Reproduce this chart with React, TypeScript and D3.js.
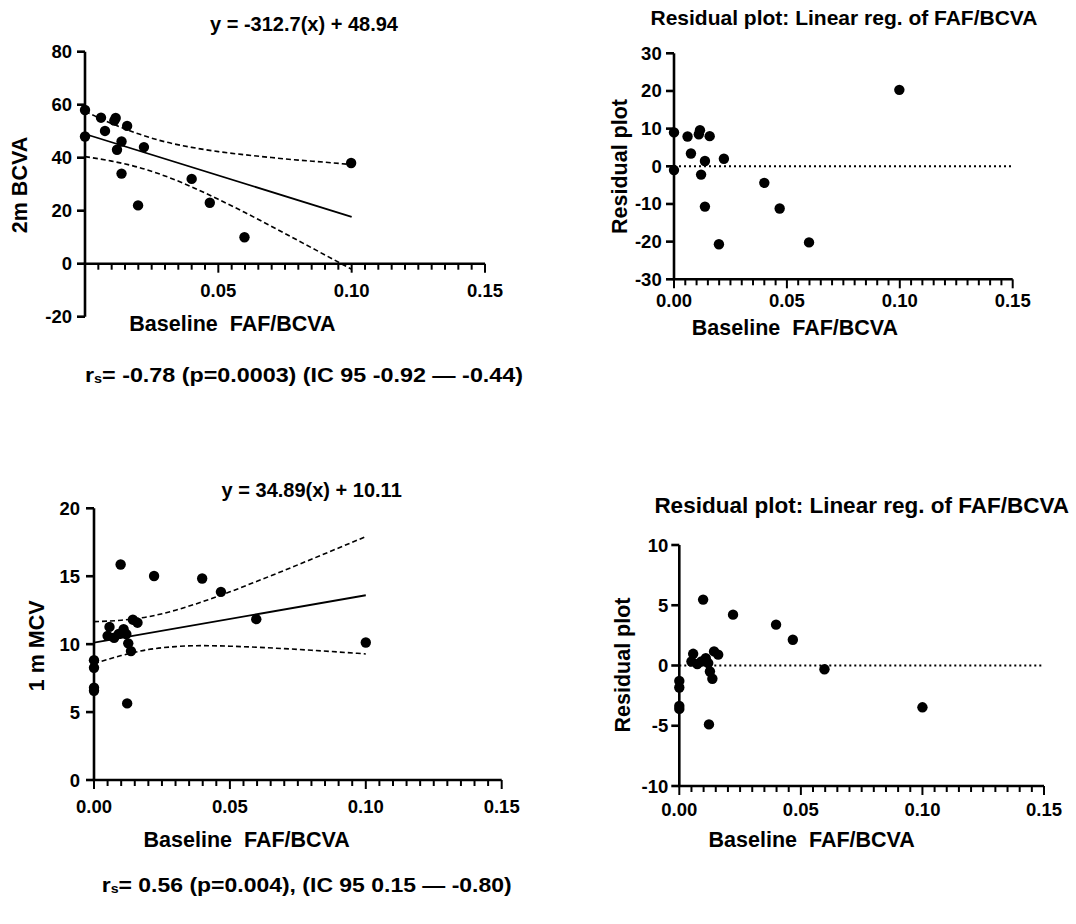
import React from "react";
import * as d3 from "d3";

// ---------- DATA ----------
// Top row: 2m BCVA vs baseline FAF/BCVA
const topX = [0, 0, 0.006, 0.0075, 0.0115, 0.011, 0.0158, 0.0137, 0.012, 0.0137, 0.0221, 0.0199, 0.04, 0.0468, 0.0598, 0.0998];
const topY = [58, 48, 55.1, 50.1, 55, 54, 52, 46.1, 43, 34, 44, 22, 32, 23, 10, 38];
const topResid = [9.0, -1.0, 7.9, 3.4, 9.6, 8.5, 8.0, 1.4, -2.2, -10.7, 2.0, -20.7, -4.4, -11.2, -20.2, 20.3];
const topSlope = -312.7;
const topIntercept = 48.94;
const bandX = [0, 0.01, 0.02, 0.03, 0.04, 0.05, 0.06, 0.07, 0.08, 0.09, 0.1];
const topBandUpper = [57.5, 52.9, 49.0, 46.0, 43.9, 42.3, 41.1, 40.05, 39.1, 38.3, 37.4];
const topBandLower = [40.4, 38.7, 36.4, 33.1, 29.0, 24.3, 19.3, 14.05, 8.7, 3.3, -2.1];

// Bottom row: 1 m MCV vs baseline FAF/BCVA
const botX = [0.0098, 0.0221, 0.0398, 0.0467, 0.0597, 0.1, 0, 0, 0, 0, 0.0122, 0.0057, 0.005, 0.0074, 0.0091, 0.0109, 0.0143, 0.016, 0.0119, 0.0126, 0.0136];
const botY = [15.86, 15.02, 14.83, 13.85, 11.84, 10.12, 8.82, 8.26, 6.79, 6.57, 5.64, 11.27, 10.61, 10.47, 10.76, 11.1, 11.8, 11.58, 10.74, 10.06, 9.49];
const botResid = [5.47, 4.22, 3.39, 2.14, -0.31, -3.47, -1.28, -1.83, -3.36, -3.6, -4.89, 0.97, 0.33, 0.12, 0.33, 0.6, 1.17, 0.9, 0.2, -0.5, -1.1];
const botSlope = 34.89;
const botIntercept = 10.11;
const botBandUpper = [11.66, 11.76, 12.02, 12.5, 13.13, 13.85, 14.63, 15.43, 16.25, 17.08, 17.92];
const botBandLower = [8.56, 9.16, 9.6, 9.82, 9.89, 9.85, 9.77, 9.67, 9.55, 9.42, 9.28];

const fitRange = [0, 0.1];
const xTicks = [0, 0.05, 0.1, 0.15];
const xMinorStep = 0.005;
const topYTicks = [-20, 0, 20, 40, 60, 80];
const topResidTicks = [-30, -20, -10, 0, 10, 20, 30];
const botYTicks = [0, 5, 10, 15, 20];
const botResidTicks = [-10, -5, 0, 5, 10];

const xTitle = "Baseline  FAF/BCVA";
const residTitle = "Residual plot: Linear reg. of FAF/BCVA";
const residYTitle = "Residual plot";

// ---------- DRAWING ----------
const FONT = "'Liberation Sans', Arial, Helvetica, sans-serif";

type Spec = {
  xRange: [number, number];
  yDomain: [number, number];
  yRange: [number, number];
  xAxisAt: number;
  xs: number[];
  ys: number[];
  yTicks: number[];
  showZeroX: boolean;
  xLabelY: number;
  yLabelRight: number;
  xTitlePos: [number, number];
  xTitleSize: number;
  yTitle: string;
  yTitlePos: [number, number];
  title: string;
  titlePos: [number, number];
  titleSize: number;
  fit?: { slope: number; intercept: number; upper: number[]; lower: number[] };
  zeroLine?: boolean;
};

function Panel({ s }: { s: Spec }) {
  const x = d3.scaleLinear().domain([0, 0.15]).range(s.xRange);
  const y = d3.scaleLinear().domain(s.yDomain).range(s.yRange);
  const axisY = y(s.xAxisAt);
  const minor = d3.range(0, 0.15 + 1e-9, xMinorStep);
  const line = d3.line<[number, number]>().x((d) => x(d[0])).y((d) => y(d[1]));
  const curve = d3
    .line<[number, number]>()
    .x((d) => x(d[0]))
    .y((d) => y(d[1]))
    .curve(d3.curveMonotoneX);
  const sw = 2.6;
  return (
    <g fontFamily={FONT} fontWeight="bold" fill="#000">
      {/* y axis */}
      <line x1={x(0)} x2={x(0)} y1={y(s.yDomain[0])} y2={y(s.yDomain[1])} stroke="#000" strokeWidth={sw} />
      {s.yTicks.map((t) => (
        <g key={"yt" + t}>
          <line x1={x(0) - 8} x2={x(0)} y1={y(t)} y2={y(t)} stroke="#000" strokeWidth={sw} />
          <text x={s.yLabelRight} y={y(t)} textAnchor="end" dominantBaseline="central" fontSize={18.5}>
            {t}
          </text>
        </g>
      ))}
      {/* x axis */}
      <line x1={x(0) - sw / 2} x2={x(0.15)} y1={axisY} y2={axisY} stroke="#000" strokeWidth={sw} />
      {minor.map((m, i) => (
        <line
          key={"mx" + i}
          x1={x(m)}
          x2={x(m)}
          y1={axisY}
          y2={axisY + (i % 10 === 0 ? 9 : 6)}
          stroke="#000"
          strokeWidth={2}
        />
      ))}
      {xTicks
        .filter((t) => s.showZeroX || t !== 0)
        .map((t) => (
          <text key={"xt" + t} x={x(t)} y={s.xLabelY} textAnchor="middle" dominantBaseline="central" fontSize={18.5}>
            {d3.format(".2f")(t)}
          </text>
        ))}
      {/* titles */}
      <text
        x={s.xTitlePos[0]}
        y={s.xTitlePos[1]}
        textAnchor="middle"
        dominantBaseline="central"
        fontSize={s.xTitleSize}
        style={{ whiteSpace: "pre" }}
      >
        {xTitle}
      </text>
      <text
        transform={`translate(${s.yTitlePos[0]},${s.yTitlePos[1]}) rotate(-90)`}
        textAnchor="middle"
        dominantBaseline="central"
        fontSize={21.5}
      >
        {s.yTitle}
      </text>
      <text x={s.titlePos[0]} y={s.titlePos[1]} textAnchor="middle" dominantBaseline="central" fontSize={s.titleSize}>
        {s.title}
      </text>
      {/* zero line for residuals */}
      {s.zeroLine && (
        <line x1={x(0)} x2={x(0.15)} y1={y(0)} y2={y(0)} stroke="#000" strokeWidth={2} strokeDasharray="2 3" />
      )}
      {/* fit + confidence bands */}
      {s.fit && (
        <g fill="none" stroke="#000">
          <path
            d={line(fitRange.map((v) => [v, s.fit!.intercept + s.fit!.slope * v]) as [number, number][]) || ""}
            strokeWidth={1.8}
          />
          <path
            d={curve(bandX.map((v, i) => [v, s.fit!.upper[i]]) as [number, number][]) || ""}
            strokeWidth={1.6}
            strokeDasharray="5 3"
          />
          <path
            d={curve(bandX.map((v, i) => [v, s.fit!.lower[i]]) as [number, number][]) || ""}
            strokeWidth={1.6}
            strokeDasharray="5 3"
          />
        </g>
      )}
      {/* points */}
      {s.xs.map((v, i) => (
        <circle key={"p" + i} cx={x(v)} cy={y(s.ys[i])} r={5.2} fill="#000" />
      ))}
    </g>
  );
}

const TL: Spec = {
  xRange: [85, 485],
  yDomain: [-20, 80],
  yRange: [316.7, 51.7],
  xAxisAt: 0,
  xs: topX,
  ys: topY,
  yTicks: topYTicks,
  showZeroX: false,
  xLabelY: 290,
  yLabelRight: 72,
  xTitlePos: [232.5, 323.5],
  xTitleSize: 21.5,
  yTitle: "2m BCVA",
  yTitlePos: [20, 185],
  title: `y = ${topSlope}(x) + ${topIntercept}`,
  titlePos: [304, 24],
  titleSize: 20,
  fit: { slope: topSlope, intercept: topIntercept, upper: topBandUpper, lower: topBandLower },
};

const TR: Spec = {
  xRange: [674, 1012.7],
  yDomain: [-30, 30],
  yRange: [279.3, 53.3],
  xAxisAt: -30,
  xs: topX,
  ys: topResid,
  yTicks: topResidTicks,
  showZeroX: true,
  xLabelY: 300,
  yLabelRight: 661.7,
  xTitlePos: [795, 328],
  xTitleSize: 21.5,
  yTitle: residYTitle,
  yTitlePos: [620, 166.5],
  title: residTitle,
  titlePos: [844, 17],
  titleSize: 21,
  zeroLine: true,
};

const BL: Spec = {
  xRange: [94, 501.7],
  yDomain: [0, 20],
  yRange: [780, 508.3],
  xAxisAt: 0,
  xs: botX,
  ys: botY,
  yTicks: botYTicks,
  showZeroX: true,
  xLabelY: 806,
  yLabelRight: 80,
  xTitlePos: [246.7, 839.5],
  xTitleSize: 21.5,
  yTitle: "1 m MCV",
  yTitlePos: [36.7, 645.8],
  title: `y = ${botSlope}(x) + ${botIntercept}`,
  titlePos: [311.7, 490],
  titleSize: 20,
  fit: { slope: botSlope, intercept: botIntercept, upper: botBandUpper, lower: botBandLower },
};

const BR: Spec = {
  xRange: [679.3, 1044],
  yDomain: [-10, 10],
  yRange: [786, 545],
  xAxisAt: -10,
  xs: botX,
  ys: botResid,
  yTicks: botResidTicks,
  showZeroX: true,
  xLabelY: 809,
  yLabelRight: 668.3,
  xTitlePos: [811.7, 840],
  xTitleSize: 21.5,
  yTitle: residYTitle,
  yTitlePos: [622.5, 665],
  title: residTitle,
  titlePos: [861.7, 505.5],
  titleSize: 22.5,
  zeroLine: true,
};

function Stat({ x, y, len, main }: { x: number; y: number; len: number; main: string }) {
  return (
    <text
      x={x}
      y={y}
      fontFamily={FONT}
      fontWeight="bold"
      fontSize={19.5}
      dominantBaseline="central"
      textLength={len}
      lengthAdjust="spacingAndGlyphs"
      style={{ whiteSpace: "pre" }}
    >
      r<tspan fontSize={12} dy={4}>s</tspan>
      <tspan dy={-4}>{main}</tspan>
    </text>
  );
}

export default function App() {
  return (
    <svg
      width={1076}
      height={924}
      style={{ position: "absolute", left: 0, top: 0, background: "#fff" }}
    >
      <rect width={1076} height={924} fill="#fff" />
      <Panel s={TL} />
      <Panel s={TR} />
      <Panel s={BL} />
      <Panel s={BR} />
      <Stat x={85} y={375} len={438} main="= -0.78 (p=0.0003) (IC 95 -0.92 — -0.44)" />
      <Stat x={101.7} y={885} len={410} main="= 0.56 (p=0.004), (IC 95 0.15 — -0.80)" />
    </svg>
  );
}
